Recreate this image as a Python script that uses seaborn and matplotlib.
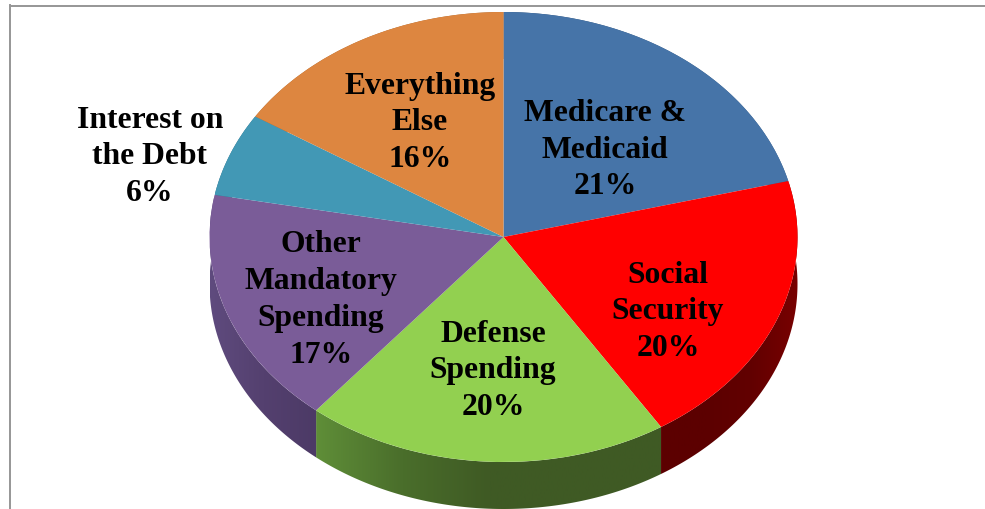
import numpy as np
import seaborn as sns
import matplotlib.pyplot as plt
from matplotlib.patches import Polygon

# spending shares, clockwise from 12 o'clock
categories = ['Medicare &\nMedicaid', 'Social\nSecurity', 'Defense\nSpending',
              'Other\nMandatory\nSpending', 'Interest on\nthe Debt', 'Everything\nElse']
shares = [21, 20, 20, 17, 6, 16]

top_colors = ['#4674a8', '#ff0000', '#92d050', '#7a5c98', '#4298b5', '#dd8640']
side_colors = [['#3a5f8a', '#304f73'],
               ['#780000', '#620000', '#5c0000', '#5c0000'],
               ['#3f5a24', '#3f5a24', '#3f5a24', '#4a6e2b', '#5f8e38'],
               ['#4c3a66', '#54406f', '#5f4b7e'],
               ['#2f6f85', '#2f6f85'],
               ['#a8652e', '#a8652e']]

# where the labels sit, in pixels of the picture
label_xy = [(605, 150), (668, 312), (493, 371), (321, 300), (150, 157), (420, 123)]

W, H = 985, 510
cx, cy, rx, ry = 503.5, 238, 294, 225
depth = 47 / ry
left_px, top_px = 9.5, 6.5

sns.set_theme(style='white')
plt.rcParams['font.family'] = ['Liberation Serif', 'DejaVu Serif']

fig = plt.figure(figsize=(W / 100, H / 100), dpi=100)
ax = fig.add_axes([left_px / W, 0, 1 - left_px / W, 1 - top_px / H])

# side of the pie, one gradient per slice
edges = np.cumsum([0] + shares) / sum(shares) * 2 * np.pi
for i in range(len(shares)):
    t = np.linspace(edges[i], edges[i + 1], 120)
    upper = np.column_stack([np.sin(t), np.cos(t)])
    lower = upper[::-1] - [0, depth]
    side = Polygon(np.vstack([upper, lower]), closed=True, transform=ax.transData, facecolor='none', edgecolor='none')
    ax.add_patch(side)
    cmap = sns.blend_palette(side_colors[i], as_cmap=True)
    grad = np.linspace(0, 1, 256).reshape(1, -1)
    x0, x1 = upper[:, 0].min(), upper[:, 0].max()
    # low cmap values are the right end of the slice
    im = ax.imshow(grad[:, ::-1], cmap=cmap, extent=(x0, x1, -1 - depth, 1), aspect='auto', zorder=1)
    im.set_clip_path(side)

wedges, _ = ax.pie(shares, colors=sns.color_palette(top_colors), startangle=90, counterclock=False,
                   radius=1, wedgeprops={'linewidth': 0, 'zorder': 2})

ax.set_aspect('auto')
ax.set_xlim((left_px - cx) / rx, (W - cx) / rx)
ax.set_ylim((cy - H) / ry, (cy - top_px) / ry)
ax.set_xticks([])
ax.set_yticks([])

# grey frame shows on the left and top only
ax.set_frame_on(True)
for name, spine in ax.spines.items():
    spine.set_visible(name in ('left', 'top'))
    spine.set_color('#969696')
    spine.set_linewidth(1.4)

for name, share, (x, y) in zip(categories, shares, label_xy):
    fig.text(x / W, 1 - y / H, f'{name}\n{share}%', ha='center', va='center', ma='center',
             fontsize=22.8, fontweight='bold', color='black', linespacing=1.35)

fig.savefig('out.png', dpi=100, facecolor='white')
